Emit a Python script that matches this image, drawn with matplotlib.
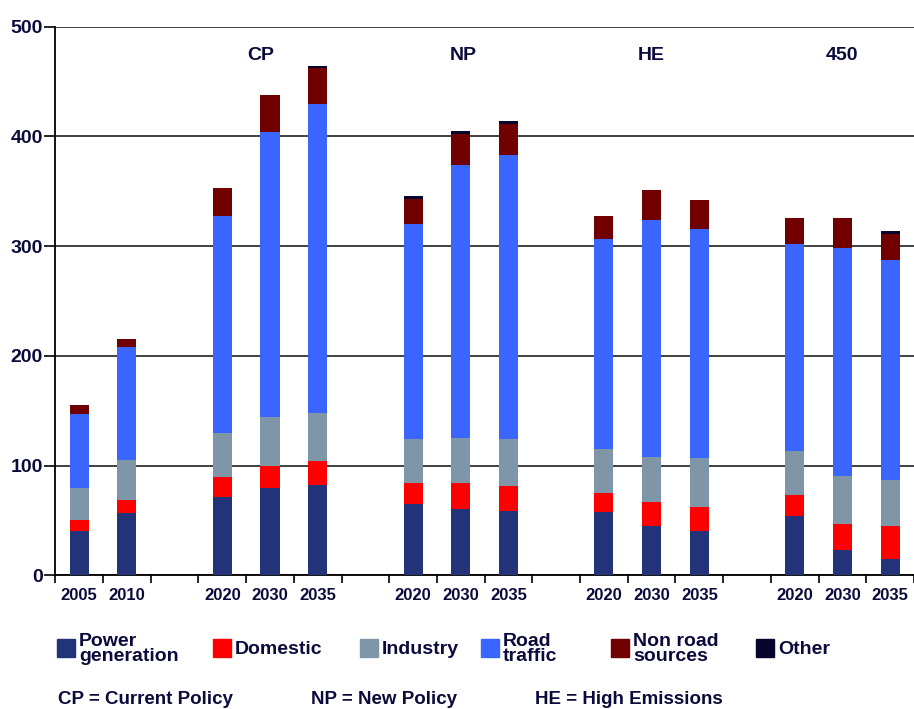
import numpy as np
import matplotlib
matplotlib.use("Agg")
import matplotlib.pyplot as plt
from matplotlib.patches import Rectangle

plt.rcParams['font.family'] = ['Liberation Sans', 'DejaVu Sans']
plt.rcParams['font.weight'] = 'bold'

nan = np.nan

# one slot per x position, "" = empty spacer slot
years = ["2005", "2010", "", "2020", "2030", "2035", "", "2020", "2030", "2035",
         "", "2020", "2030", "2035", "", "2020", "2030", "2035"]
scenarios = ["CP", "NP", "HE", "450"]

power = [40, 56.5, nan, 71, 80, 82, nan, 65, 60, 58.6, nan, 58, 45, 40, nan, 54, 23.4, 15]
domestic = [10, 12, nan, 19, 20, 22, nan, 19, 24, 23, nan, 17, 22, 22, nan, 19, 23.7, 30]
industry = [30, 37, nan, 40, 44, 44, nan, 40, 41, 42.5, nan, 40, 41, 45, nan, 40, 43.8, 42]
road = [67, 102.6, nan, 197.6, 260, 282, nan, 196, 248.6, 259, nan, 191.5, 216, 209, nan, 189, 207.2, 200]
nonroad = [8, 7.7, nan, 25, 34, 32.5, nan, 23, 28.6, 28.3, nan, 21, 27, 26.5, nan, 23.4, 27.7, 24]
other = [0, 0, nan, 0, 0, 2, nan, 2.3, 2.4, 2.4, nan, 0, 0, 0, nan, 0, 0, 2.5]

series = [
    ("Power\ngeneration", power, "#22337a"),
    ("Domestic", domestic, "#ff0000"),
    ("Industry", industry, "#7f96a8"),
    ("Road\ntraffic", road, "#3a66ff"),
    ("Non road\nsources", nonroad, "#700000"),
    ("Other", other, "#05052e"),
]

navy = "#0b0b3b"

fig = plt.figure(figsize=(9.14, 7.09), dpi=100)
ax = fig.add_axes([55.3 / 914, 133.7 / 709, 1 - 55.3 / 914, (575.3 - 26.7) / 709])

x = np.arange(len(years)) + 0.5
bottom = np.zeros(len(years))
for name, vals, color in series:
    vals = np.array(vals, dtype=float)
    ax.bar(x, vals, width=0.4, bottom=bottom, color=color, zorder=3)
    bottom = bottom + vals

ax.set_xlim(0, len(years))
ax.set_ylim(0, 500)

# tick marks on slot boundaries, labels in the middle of each slot
ax.set_xticks(np.arange(len(years) + 1))
ax.set_xticklabels([])
ax.set_xticks(x, minor=True)
ax.set_xticklabels(years, minor=True)
ax.tick_params(axis='x', which='major', length=6, width=1.2, color='black')
ax.tick_params(axis='x', which='minor', length=0, pad=9, labelsize=12, labelcolor=navy)

ax.set_yticks([0, 100, 200, 300, 400, 500])
ax.tick_params(axis='y', length=8, width=1.2, pad=1, labelsize=14, labelcolor=navy)
for lab in ax.get_yticklabels() + ax.get_xticklabels(minor=True):
    lab.set_fontweight('bold')

ax.yaxis.grid(True, color='#333333', linewidth=1.3, zorder=1)
ax.set_axisbelow(True)
for side in ['top', 'right']:
    ax.spines[side].set_visible(False)
for side in ['left', 'bottom']:
    ax.spines[side].set_linewidth(1.3)
    ax.spines[side].set_color('black')

# scenario labels
for name, xpos in zip(scenarios, [4.3, 8.55, 12.5, 16.5]):
    ax.text(xpos, 474, name, ha='center', va='center', fontsize=14,
            fontweight='bold', color=navy)

# legend, drawn by hand to match the uneven spacing
legend_x = [57, 213, 360, 481, 611, 756]
for (name, vals, color), lx in zip(series, legend_x):
    fig.patches.append(Rectangle((lx / 914, 1 - 657 / 709), 18 / 914, 18 / 709,
                                 transform=fig.transFigure, color=color))
    fig.text((lx + 22) / 914, 1 - 649 / 709, name, ha='left', va='center',
             fontsize=14, fontweight='bold', color=navy, linespacing=0.85)

notes = ["CP = Current Policy", "NP = New Policy", "HE = High Emissions"]
for note, nx in zip(notes, [58, 311, 535]):
    fig.text(nx / 914, 1 / 709, note, ha='left', va='bottom',
             fontsize=13.5, fontweight='bold', color=navy)

plt.savefig("out.png", dpi=100)
